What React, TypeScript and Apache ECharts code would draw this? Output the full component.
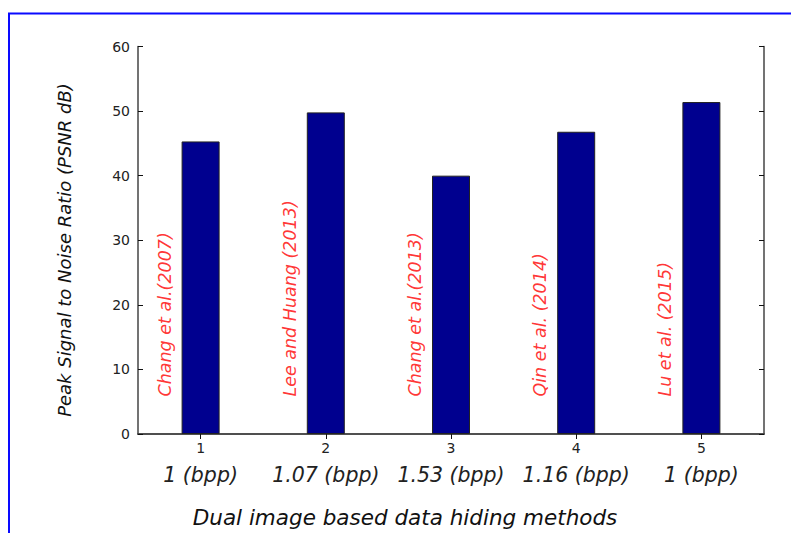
import React, { useEffect, useRef } from "react";
import * as echarts from "echarts";

// Method index on the x axis
const categories = ["1", "2", "3", "4", "5"];
// Embedding rate shown under each method index
const bppLabels = ["1 (bpp)", "1.07 (bpp)", "1.53 (bpp)", "1.16 (bpp)", "1 (bpp)"];
// Method names written beside each bar
const methods = [
  "Chang et al.(2007)",
  "Lee and Huang (2013)",
  "Chang et al.(2013)",
  "Qin et al. (2014)",
  "Lu et al. (2015)",
];
// PSNR (dB) per method
const psnr = [45.3, 49.8, 40.0, 46.8, 51.4];
// Y-axis tick values
const yTicks = [0, 10, 20, 30, 40, 50, 60];

const HAND_FONT = "'DejaVu Sans', sans-serif";
const TICK_FONT = "'DejaVu Sans', sans-serif";

export default function App() {
  const ref = useRef<HTMLDivElement>(null);

  useEffect(() => {
    if (!ref.current) return;
    const chart = echarts.init(ref.current, null, { renderer: "svg" });
    const frameColor = "#444";
    const labelBase = 5.8;

    chart.setOption({
      animation: false,
      backgroundColor: "#ffffff",
      grid: { left: 138, right: 27, top: 46.5, bottom: 99 },
      xAxis: [
        {
          type: "category",
          data: categories,
          boundaryGap: true,
          axisLine: { show: true, lineStyle: { color: frameColor, width: 1.5 } },
          axisTick: { show: true, inside: true, alignWithLabel: true, length: 5, lineStyle: { color: "#111" } },
          axisLabel: {
            margin: 6,
            formatter: (v: string, i: number) => `{n|${v}}\n{b|${bppLabels[i]}}`,
            rich: {
              n: { fontFamily: TICK_FONT, fontSize: 14, color: "#222", lineHeight: 16 },
              b: { fontFamily: HAND_FONT, fontStyle: "italic", fontSize: 20.5, color: "#222", lineHeight: 38 },
            },
          },
          splitLine: { show: false },
        },
        {
          type: "category",
          data: categories,
          position: "top",
          boundaryGap: true,
          axisLine: { show: true, lineStyle: { color: frameColor, width: 1.5 } },
          axisTick: { show: true, inside: true, alignWithLabel: true, length: 5, lineStyle: { color: "#111" } },
          axisLabel: { show: false },
          splitLine: { show: false },
        },
      ],
      yAxis: [
        {
          type: "value",
          min: yTicks[0],
          max: yTicks[yTicks.length - 1],
          interval: 10,
          axisLine: { show: true, lineStyle: { color: frameColor, width: 1.5 } },
          axisTick: { show: true, inside: true, length: 5, lineStyle: { color: "#111" } },
          axisLabel: { margin: 8, fontFamily: TICK_FONT, fontSize: 14, color: "#222" },
          splitLine: { show: false },
        },
        {
          type: "value",
          position: "right",
          min: yTicks[0],
          max: yTicks[yTicks.length - 1],
          interval: 10,
          axisLine: { show: true, lineStyle: { color: frameColor, width: 1.5 } },
          axisTick: { show: true, inside: true, length: 5, lineStyle: { color: "#111" } },
          axisLabel: { show: false },
          splitLine: { show: false },
        },
      ],
      series: [
        {
          type: "bar",
          data: psnr,
          barWidth: 38,
          itemStyle: { color: "#00008f", borderColor: "#222", borderWidth: 1 },
          silent: true,
        },
        {
          type: "scatter",
          data: methods.map((_, i) => [i, labelBase]),
          symbolSize: 0,
          silent: true,
          label: {
            show: true,
            formatter: (p: any) => methods[p.dataIndex],
            rotate: 90,
            align: "left",
            verticalAlign: "middle",
            // offset is applied in the rotated frame: second component moves sideways
            offset: [0, -36],
            fontFamily: HAND_FONT,
            fontStyle: "italic",
            fontSize: 17.5,
            color: "#ff0000",
          },
        },
      ],
      graphic: [
        {
          type: "line",
          shape: { x1: 9, y1: 13.5, x2: 9, y2: 533 },
          style: { stroke: "#0a0aff", lineWidth: 2 },
        },
        {
          type: "line",
          shape: { x1: 8, y1: 13.5, x2: 791, y2: 13.5 },
          style: { stroke: "#0a0aff", lineWidth: 2 },
        },
        {
          type: "text",
          x: 64,
          y: 250,
          rotation: Math.PI / 2,
          style: {
            text: "Peak Signal to Noise Ratio (PSNR dB)",
            fontFamily: HAND_FONT,
            fontStyle: "italic",
            fontSize: 18,
            fill: "#111",
            align: "center",
            verticalAlign: "middle",
          },
        },
        {
          type: "text",
          x: 405,
          y: 517,
          style: {
            text: "Dual image based data hiding methods",
            fontFamily: HAND_FONT,
            fontStyle: "italic",
            fontSize: 21.5,
            fill: "#111",
            align: "center",
            verticalAlign: "middle",
          },
        },
      ],
    });

    return () => chart.dispose();
  }, []);

  return (
    <div
      ref={ref}
      style={{ position: "absolute", left: 0, top: 0, width: 791, height: 533, background: "#fff" }}
    />
  );
}
